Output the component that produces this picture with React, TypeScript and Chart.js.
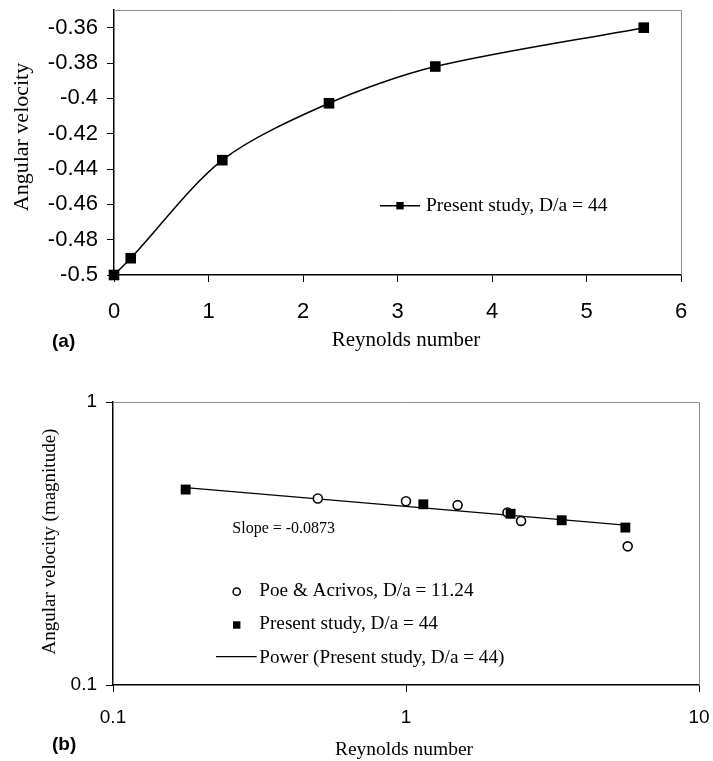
import React, { useEffect, useRef } from "react";
import { Chart, registerables } from "chart.js";

Chart.register(...registerables);

// ---------- data: panel (a) ----------
const reynoldsA = [0, 0.177, 1.146, 2.275, 3.4, 5.606];
const omegaA = [-0.5, -0.4905, -0.435, -0.4028, -0.382, -0.36];
const xTicksA = [0, 1, 2, 3, 4, 5, 6];
const yTicksA = [-0.5, -0.48, -0.46, -0.44, -0.42, -0.4, -0.38, -0.36];

// ---------- data: panel (b) ----------
const reynoldsPoe = [0.5, 1.0, 1.5, 2.22, 2.47, 5.71];
const omegaPoe = [0.456, 0.446, 0.432, 0.407, 0.38, 0.309];
const reynoldsStudy = [0.177, 1.146, 2.275, 3.4, 5.606];
const omegaStudy = [0.4905, 0.435, 0.4028, 0.382, 0.36];
const xTicksB = [0.1, 1, 10];
const yTicksB = [0.1, 1];

const legendA = "Present study, D/a = 44";
const legendPoe = "Poe & Acrivos, D/a = 11.24";
const legendStudy = "Present study, D/a = 44";
const legendPower = "Power (Present study, D/a = 44)";
const slopeLabel = "Slope = -0.0873";

const SERIF = '"Liberation Serif", "Times New Roman", serif';
const SANS = '"Liberation Sans", Arial, sans-serif';

// power-law least squares fit (what the spreadsheet trendline does)
function powerFit(xs: number[], ys: number[]) {
  const lx = xs.map((v) => Math.log(v));
  const ly = ys.map((v) => Math.log(v));
  const n = xs.length;
  const mx = lx.reduce((s, v) => s + v, 0) / n;
  const my = ly.reduce((s, v) => s + v, 0) / n;
  let sxy = 0;
  let sxx = 0;
  for (let i = 0; i < n; i++) {
    sxy += (lx[i] - mx) * (ly[i] - my);
    sxx += (lx[i] - mx) * (lx[i] - mx);
  }
  const b = sxy / sxx;
  const a = Math.exp(my - b * mx);
  return { a, b };
}

function drawFrame(chart: any) {
  const { ctx, chartArea: a } = chart;
  ctx.save();
  ctx.strokeStyle = "#8c8c8c";
  ctx.lineWidth = 1;
  ctx.beginPath();
  ctx.moveTo(a.left, Math.round(a.top) + 0.5);
  ctx.lineTo(Math.round(a.right) + 0.5, Math.round(a.top) + 0.5);
  ctx.lineTo(Math.round(a.right) + 0.5, a.bottom);
  ctx.stroke();
  ctx.restore();
}

function text(
  ctx: CanvasRenderingContext2D,
  s: string,
  x: number,
  y: number,
  font: string,
  align: CanvasTextAlign = "left",
  rotate = 0
) {
  ctx.save();
  ctx.fillStyle = "#000";
  ctx.font = font;
  ctx.textAlign = align;
  ctx.textBaseline = "alphabetic";
  ctx.translate(x, y);
  if (rotate) ctx.rotate(rotate);
  ctx.fillText(s, 0, 0);
  ctx.restore();
}

const fmt = (v: number) => String(Math.round(v * 1000) / 1000);

function axisCommon(fontSize: number, padding: number) {
  return {
    grid: {
      display: true,
      drawOnChartArea: false,
      drawTicks: true,
      tickLength: 7,
      color: "#000",
      lineWidth: 1,
    },
    border: { display: true, color: "#000", width: 1.5 },
    ticks: {
      font: { family: SANS, size: fontSize },
      color: "#000",
      padding,
      autoSkip: false,
      maxRotation: 0,
      minRotation: 0,
      callback: (v: any) => fmt(Number(v)),
    },
    title: { display: false },
  };
}

function fixX(h: number) {
  return (s: any) => {
    s.height = h;
    s.paddingLeft = 0;
    s.paddingRight = 0;
  };
}
function fixY(w: number) {
  return (s: any) => {
    s.width = w;
    s.paddingTop = 0;
    s.paddingBottom = 0;
  };
}

export default function App() {
  const refA = useRef<HTMLCanvasElement>(null);
  const refB = useRef<HTMLCanvasElement>(null);

  useEffect(() => {
    // ---------------- panel (a) ----------------
    const extrasA = {
      id: "extrasA",
      beforeDatasetsDraw(chart: any) {
        drawFrame(chart);
      },
      afterDraw(chart: any) {
        const ctx = chart.ctx as CanvasRenderingContext2D;
        ctx.save();
        ctx.strokeStyle = "#000";
        ctx.lineWidth = 1.5;
        ctx.beginPath();
        ctx.moveTo(380, 205.7);
        ctx.lineTo(420, 205.7);
        ctx.stroke();
        ctx.fillStyle = "#000";
        ctx.fillRect(400 - 3.7, 205.7 - 3.7, 7.4, 7.4);
        ctx.restore();
        text(ctx, legendA, 426, 211, `19.5px ${SERIF}`);
        text(ctx, "Reynolds number", 406, 346, `21px ${SERIF}`, "center");
        text(ctx, "Angular velocity", 28, 137, `22px ${SERIF}`, "center", -Math.PI / 2);
        text(ctx, "(a)", 52, 347, `bold 19px ${SANS}`);
      },
    };

    const chartA = new Chart(refA.current!, {
      type: "line",
      data: {
        datasets: [
          {
            data: reynoldsA.map((x, i) => ({ x, y: omegaA[i] })),
            borderColor: "#000",
            borderWidth: 1.5,
            backgroundColor: "#000",
            pointStyle: "rect",
            pointRadius: 7.5,
            pointBorderWidth: 0,
            pointBackgroundColor: "#000",
            tension: 0.3,
            clip: false as any,
          },
        ],
      },
      options: {
        responsive: false,
        animation: false,
        events: [],
        layout: { padding: { top: 10, right: 32, left: 0, bottom: 0 } },
        plugins: { legend: { display: false }, tooltip: { enabled: false } },
        scales: {
          x: {
            type: "linear",
            min: 0,
            max: 6,
            ...axisCommon(22, 17),
            afterBuildTicks: (s: any) => {
              s.ticks = xTicksA.map((value) => ({ value }));
            },
            afterFit: fixX(105),
          } as any,
          y: {
            type: "linear",
            min: -0.5,
            max: -0.35,
            ...axisCommon(22, 9),
            afterBuildTicks: (s: any) => {
              s.ticks = yTicksA.map((value) => ({ value }));
            },
            afterFit: fixY(114),
          } as any,
        },
      },
      plugins: [extrasA],
    });

    // ---------------- panel (b) ----------------
    const fit = powerFit(reynoldsStudy, omegaStudy);
    const trendX = [Math.min(...reynoldsStudy), Math.max(...reynoldsStudy)];

    const extrasB = {
      id: "extrasB",
      beforeDatasetsDraw(chart: any) {
        drawFrame(chart);
      },
      afterDraw(chart: any) {
        const ctx = chart.ctx as CanvasRenderingContext2D;
        ctx.save();
        ctx.strokeStyle = "#000";
        ctx.fillStyle = "#fff";
        ctx.lineWidth = 1.5;
        ctx.beginPath();
        ctx.arc(236.7, 211.7, 3.6, 0, Math.PI * 2);
        ctx.fill();
        ctx.stroke();
        ctx.fillStyle = "#000";
        ctx.fillRect(236.7 - 3.7, 245 - 3.7, 7.4, 7.4);
        ctx.lineWidth = 1.3;
        ctx.beginPath();
        ctx.moveTo(216, 276.7);
        ctx.lineTo(256.7, 276.7);
        ctx.stroke();
        ctx.restore();
        text(ctx, legendPoe, 259.3, 216.3, `19.2px ${SERIF}`);
        text(ctx, legendStudy, 259.3, 249.3, `19.2px ${SERIF}`);
        text(ctx, legendPower, 259.3, 283.3, `19.2px ${SERIF}`);
        text(ctx, slopeLabel, 232.3, 152.7, `16px ${SERIF}`);
        text(ctx, "Reynolds number", 404, 375, `19.5px ${SERIF}`, "center");
        text(ctx, "Angular velocity (magnitude)", 55, 161.5, `19px ${SERIF}`, "center", -Math.PI / 2);
        text(ctx, "(b)", 52, 370, `bold 19px ${SANS}`);
      },
    };

    const chartB = new Chart(refB.current!, {
      type: "scatter",
      data: {
        datasets: [
          {
            label: legendStudy,
            data: reynoldsStudy.map((x, i) => ({ x, y: omegaStudy[i] })),
            pointStyle: "rect",
            pointRadius: 7,
            pointBorderWidth: 0,
            pointBackgroundColor: "#000",
            backgroundColor: "#000",
            showLine: false,
            order: 0,
            clip: false as any,
          },
          {
            label: legendPoe,
            data: reynoldsPoe.map((x, i) => ({ x, y: omegaPoe[i] })),
            pointStyle: "circle",
            pointRadius: 4.5,
            pointBorderWidth: 1.6,
            pointBorderColor: "#000",
            pointBackgroundColor: "#fff",
            showLine: false,
            order: 1,
            clip: false as any,
          },
          {
            label: legendPower,
            data: trendX.map((x) => ({ x, y: fit.a * Math.pow(x, fit.b) })),
            showLine: true,
            borderColor: "#000",
            borderWidth: 1.3,
            pointRadius: 0,
            order: 2,
          },
        ],
      },
      options: {
        responsive: false,
        animation: false,
        events: [],
        layout: { padding: { top: 22, right: 14, left: 0, bottom: 0 } },
        plugins: { legend: { display: false }, tooltip: { enabled: false } },
        scales: {
          x: {
            type: "logarithmic",
            min: 0.1,
            max: 10,
            ...axisCommon(19, 14),
            afterBuildTicks: (s: any) => {
              s.ticks = xTicksB.map((value) => ({ value }));
            },
            afterFit: fixX(76),
          } as any,
          y: {
            type: "logarithmic",
            min: 0.1,
            max: 1,
            ...axisCommon(19, 9),
            afterBuildTicks: (s: any) => {
              s.ticks = yTicksB.map((value) => ({ value }));
            },
            afterFit: fixY(113),
          } as any,
        },
      },
      plugins: [extrasB],
    });

    return () => {
      chartA.destroy();
      chartB.destroy();
    };
  }, []);

  return (
    <div
      style={{
        position: "absolute",
        left: 0,
        top: 0,
        width: 713,
        height: 761,
        background: "#fff",
        overflow: "hidden",
      }}
    >
      <canvas
        ref={refA}
        width={713}
        height={380}
        style={{ position: "absolute", left: 0, top: 0, width: 713, height: 380 }}
      />
      <canvas
        ref={refB}
        width={713}
        height={381}
        style={{ position: "absolute", left: 0, top: 380, width: 713, height: 381 }}
      />
    </div>
  );
}
